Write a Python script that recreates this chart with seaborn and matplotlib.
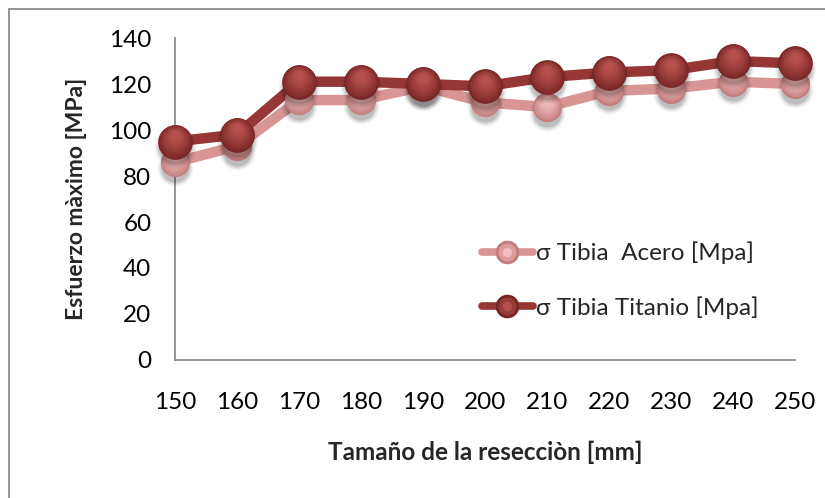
import numpy as np
import pandas as pd
import matplotlib
matplotlib.use("Agg")
import matplotlib.pyplot as plt
import matplotlib.transforms as mtransforms
from matplotlib.colors import to_rgb
from matplotlib.lines import Line2D
from matplotlib.legend_handler import HandlerTuple
from matplotlib.patches import Rectangle
import seaborn as sns

# Resection size [mm] and peak tibia stress [MPa]
tamano = [150, 160, 170, 180, 190, 200, 210, 220, 230, 240, 250]
acero = [86, 93, 113, 113, 119, 112, 110, 117, 118, 121, 120]
titanio = [95, 98, 121, 121, 120, 119, 123, 125, 126, 130, 129]
series_names = ["σ Tibia  Acero [Mpa]", "σ Tibia Titanio [Mpa]"]
y_ticks = [0, 20, 40, 60, 80, 100, 120, 140]

line_colors = {series_names[0]: "#D99593", series_names[1]: "#953735"}
# rim and highlight shades for the sphere markers
sphere_shades = {
    series_names[0]: ("#C27D7C", "#F3BFBE"),
    series_names[1]: ("#772725", "#B7504D"),
}
marker_size = {series_names[0]: 21, series_names[1]: 25}

sns.set_theme(style="white")
plt.rcParams["font.family"] = ["Lato", "DejaVu Sans"]
FS = 17.5

df = pd.DataFrame({
    "tamano": tamano * 2,
    "valor": acero + titanio,
    "serie": [series_names[0]] * len(tamano) + [series_names[1]] * len(tamano),
})

fig = plt.figure(figsize=(8.25, 4.98), dpi=100)
ax = fig.add_axes([175 / 825, 1 - 360 / 498, (795 - 175) / 825, (360 - 38) / 498])

# outer chart border
fig.patches.append(Rectangle((9 / 825, -0.1), 1.2, 1 - 9 / 498 + 0.1,
                             transform=fig.transFigure, fill=False,
                             edgecolor="#8C8C8C", linewidth=1.3))

sns.lineplot(data=df, x="tamano", y="valor", hue="serie", hue_order=series_names,
             palette=line_colors, linewidth=7.5, ax=ax, legend=False,
             solid_capstyle="butt", zorder=2)


def blend(c1, c2, t):
    a, b = np.array(to_rgb(c1)), np.array(to_rgb(c2))
    return tuple(a + (b - a) * t)


def draw_spheres(x, y, name, z):
    d = marker_size[name]
    rim, hi = sphere_shades[name]
    # soft drop shadow
    for k, a in enumerate([0.04, 0.06, 0.08, 0.10]):
        off = mtransforms.offset_copy(ax.transData, fig=fig, x=0, y=-4, units="points")
        ax.scatter(x, y, s=(d + 5 - 2 * k) ** 2, color="#000000", alpha=a,
                   linewidths=0, transform=off, zorder=z, clip_on=False)
    n = 12
    for i in range(n):
        t = i / (n - 1)
        frac = 1.0 - 0.75 * t
        up = 4.5 * t
        off = mtransforms.offset_copy(ax.transData, fig=fig, x=0, y=up, units="points")
        ax.scatter(x, y, s=(d * frac) ** 2, color=blend(rim, hi, t ** 0.8),
                   linewidths=0, transform=off, zorder=z + 0.1, clip_on=False)


draw_spheres(tamano, acero, series_names[0], 3)
draw_spheres(tamano, titanio, series_names[1], 4)

ax.set_xlim(150, 250)
ax.set_ylim(0, 140)
ax.set_xticks(tamano)
ax.set_xticklabels([str(t) for t in tamano])
ax.set_yticks(y_ticks)
ax.set_yticklabels([str(t) for t in y_ticks])
ax.tick_params(axis="both", length=0, labelsize=FS, colors="#000000")
ax.tick_params(axis="x", pad=23)
ax.tick_params(axis="y", pad=17)
for side in ["top", "right"]:
    ax.spines[side].set_visible(False)
for side in ["left", "bottom"]:
    ax.spines[side].set_color("#8C8C8C")
    ax.spines[side].set_linewidth(1.3)
ax.grid(False)

ax.set_xlabel("Tamaño de la resecciòn [mm]", fontsize=FS, fontweight="bold", labelpad=20)
ax.set_ylabel("Esfuerzo màximo [MPa]", fontsize=16.5, fontweight="bold", labelpad=16)


def legend_handle(name, ms):
    rim, hi = sphere_shades[name]
    base = Line2D([], [], color=line_colors[name], lw=5.5, marker="o", ms=ms,
                  markerfacecolor=rim, markeredgewidth=0)
    mid = Line2D([], [], lw=0, marker="o", ms=ms * 0.75, markerfacecolor=blend(rim, hi, 0.5),
                 markeredgewidth=0)
    top = Line2D([], [], lw=0, marker="o", ms=ms * 0.4, markerfacecolor=hi,
                 markeredgewidth=0)
    return (base, mid, top)


handles = [legend_handle(series_names[0], 17), legend_handle(series_names[1], 17)]
ax.legend(handles, series_names, handler_map={tuple: HandlerTuple(ndivide=1, pad=0)},
          loc="upper left", bbox_to_anchor=((472 - 175) / 620, (360 - 232) / 322),
          frameon=False, fontsize=FS, handlelength=2.1, handletextpad=0.12,
          labelspacing=1.3, borderaxespad=0)

fig.savefig("out.png", dpi=100)
